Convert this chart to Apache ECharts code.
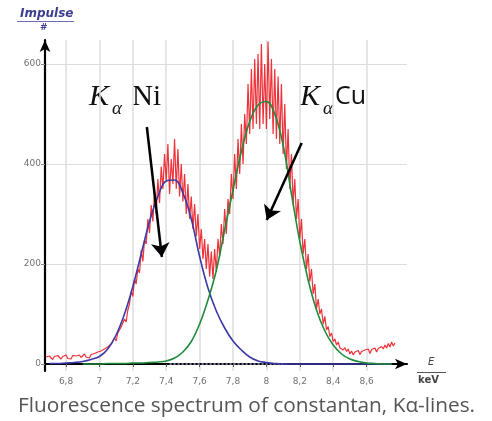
<!DOCTYPE html>
<html>
<head>
<meta charset="utf-8">
<script src="https://cdn.jsdelivr.net/npm/echarts@6/dist/echarts.min.js"></script>
<style>
html,body{margin:0;padding:0;background:#fff;}
#c{width:492px;height:421px;}
</style>
</head>
<body>
<div id="c"></div>
<script>
// Measured spectrum (counts per channel), channels from 6.68 keV in 0.01 keV steps
const redStart = 6.68, redStep = 0.01;
const redCounts = [
  14, 10, 16, 12, 9, 15, 11, 17, 13, 10,
  15, 12, 18, 11, 14, 10, 17, 13, 16, 12,
  18, 13, 15, 20, 14, 17, 12, 19, 16, 21,
  18, 24, 20, 26, 22, 30, 27, 34, 31, 40,
  44, 52, 46, 62, 58, 74, 70, 90, 84, 108,
  120, 146, 135, 170, 160, 190, 182, 228, 205, 248,
  240, 290, 262, 318, 285, 345, 300, 370, 322, 395,
  350, 420, 365, 440, 340, 410, 360, 450, 350, 430,
  335, 400, 325, 380, 300, 360, 290, 335, 270, 320,
  255, 300, 230, 270, 210, 250, 190, 240, 175, 225,
  170, 230, 185, 250, 215, 280, 240, 310, 260, 330,
  300, 380, 330, 420, 350, 450, 380, 480, 400, 500,
  440, 560, 460, 590, 470, 610, 480, 620, 470, 640,
  480, 600, 470, 645, 490, 610, 460, 590, 450, 575,
  440, 560, 420, 520, 390, 470, 350, 420, 320, 370,
  290, 330, 250, 290, 220, 250, 190, 220, 165, 190,
  140, 160, 110, 130, 100, 110, 80, 95, 68, 75,
  55, 62, 45, 50, 38, 44, 32, 36, 28, 33,
  25, 30, 20, 26, 18, 24, 21, 27, 19, 25,
  22, 28, 24, 30, 21, 29, 26, 32, 24, 31,
  28, 35, 30, 38, 32, 41, 34, 44, 36, 42
];
// Gaussian fits, sampled from 6.70 keV in 0.05 keV steps
const fitStart = 6.70, fitStep = 0.05;
const niFit = [
  1, 1, 2, 3, 5, 9, 15, 30, 58, 100,
  155, 220, 285, 335, 366, 368, 342, 290, 215, 152,
  106, 72, 46, 28, 14, 6, 3, 1, 0, 0,
  0, 0, 0, 0, 0, 0, 0, 0, 0, 0,
  0, 0
];
const cuFit = [
  null, null, null, null, 0, 0, 0, 1, 1, 1,
  2, 2, 3, 4, 6, 12, 24, 45, 80, 128,
  187, 268, 348, 425, 485, 518, 525, 500, 438, 340,
  245, 168, 108, 66, 38, 20, 10, 5, 2, 1,
  0, 0
];
const baselineRange = [7.42, 8.12];
const xTicks = [6.8, 7.0, 7.2, 7.4, 7.6, 7.8, 8.0, 8.2, 8.4, 8.6];
const yTicks = [0, 200, 400, 600];
const niArrow = [[7.284, 474], [7.374, 214]];
const cuArrow = [[8.211, 442], [8.002, 288]];

const redData = redCounts.map((v, i) => [+(redStart + i * redStep).toFixed(2), v]);
const niData = niFit.map((v, i) => [+(fitStart + i * fitStep).toFixed(2), v]);
const cuData = cuFit.map((v, i) => [+(fitStart + i * fitStep).toFixed(2), v]);

const chart = echarts.init(document.getElementById('c'), null, {renderer: 'canvas'});
const labelColor = '#707070';
const gridColor = '#dedede';
chart.setOption({
  animation: false,
  backgroundColor: '#ffffff',
  grid: {left: 45, right: 85, top: 40, bottom: 50, containLabel: false},
  xAxis: {
    type: 'value', min: 6.674, max: 8.842,
    axisLine: {show: true, symbol: ['none', 'arrow'], symbolSize: [8, 12],
      lineStyle: {color: '#000', width: 2.2}},
    axisTick: {show: true, customValues: xTicks, length: 3, lineStyle: {color: '#555'}},
    axisLabel: {customValues: xTicks, color: labelColor, fontSize: 9, fontFamily: 'DejaVu Sans', margin: 6,
      formatter: v => String(+v.toFixed(1)).replace('.', ',')},
    splitLine: {show: true, lineStyle: {color: gridColor, width: 1.5}}
  },
  yAxis: {
    type: 'value', min: -14, max: 648,
    axisLine: {show: true, symbol: ['none', 'arrow'], symbolSize: [8, 12],
      lineStyle: {color: '#000', width: 2.2}},
    axisTick: {show: true, customValues: yTicks, length: 4, lineStyle: {color: '#888'}},
    axisLabel: {customValues: yTicks, color: labelColor, fontSize: 9, fontFamily: 'DejaVu Sans', margin: 4},
    splitLine: {show: true, lineStyle: {color: gridColor, width: 1.2}}
  },
  series: [
    {
      type: 'line', name: 'baseline', data: baselineRange.map(x => [x, 0]),
      showSymbol: false, silent: true, z: 1,
      lineStyle: {color: '#9a9ac8', width: 1.5, type: [2, 2]},
      markLine: {
        silent: true, symbol: ['none', 'arrow'], symbolSize: 14,
        label: {show: false},
        lineStyle: {color: '#000', width: 2.5, type: 'solid'},
        data: [
          [{coord: niArrow[0]}, {coord: niArrow[1]}],
          [{coord: cuArrow[0]}, {coord: cuArrow[1]}]
        ],
        z: 10
      }
    },
    {
      type: 'line', name: 'spectrum', data: redData, showSymbol: false, z: 2,
      lineStyle: {color: 'rgba(236,28,36,0.9)', width: 1.2}
    },
    {
      type: 'line', name: 'Ni', data: niData, showSymbol: false, smooth: 0.4, z: 3,
      lineStyle: {color: '#3b3aa6', width: 1.6}
    },
    {
      type: 'line', name: 'Cu', data: cuData, showSymbol: false, smooth: 0.4, z: 3,
      connectNulls: false,
      lineStyle: {color: '#1f8c3c', width: 1.6}
    }
  ],
  graphic: [
    {type: 'text', left: 20, top: 8, style: {text: 'Impulse', fill: '#3c3f90', font: 'italic bold 12px "DejaVu Sans"'}},
    {type: 'line', shape: {x1: 17, y1: 21.5, x2: 74, y2: 21.5}, style: {stroke: '#6a6db0', lineWidth: 1}},
    {type: 'text', left: 40, top: 23, style: {text: '#', fill: '#3c3f90', font: 'bold 9px "DejaVu Sans"'}},
    {type: 'text', left: 428, top: 357, style: {text: 'E', fill: '#444', font: 'italic 10px "DejaVu Sans"'}},
    {type: 'line', shape: {x1: 417, y1: 372.5, x2: 446, y2: 372.5}, style: {stroke: '#555', lineWidth: 1}},
    {type: 'text', left: 418, top: 375, style: {text: 'keV', fill: '#444', font: 'bold 10px "DejaVu Sans"'}},
    // K_alpha Ni label
    {type: 'text', left: 89, top: 82, style: {text: 'K', fill: '#111', font: 'italic 30px "Liberation Serif"'}},
    {type: 'text', left: 112, top: 99, style: {text: 'α', fill: '#111', font: 'italic 19px "Liberation Serif"'}},
    {type: 'text', left: 132, top: 83, style: {text: 'Ni', fill: '#111', font: '29px "Liberation Serif"'}},
    // K_alpha Cu label
    {type: 'text', left: 300, top: 82, style: {text: 'K', fill: '#111', font: 'italic 30px "Liberation Serif"'}},
    {type: 'text', left: 323, top: 99, style: {text: 'α', fill: '#111', font: 'italic 19px "Liberation Serif"'}},
    {type: 'text', left: 335, top: 84, style: {text: 'Cu', fill: '#111', font: '25px "Open Sans"'}},
    // caption
    {type: 'text', left: 18, top: 396, style: {text: 'Fluorescence spectrum of constantan, Kα-lines.', fill: '#555', font: '20.8px "Open Sans"'}}
  ]
});
</script>
</body>
</html>
